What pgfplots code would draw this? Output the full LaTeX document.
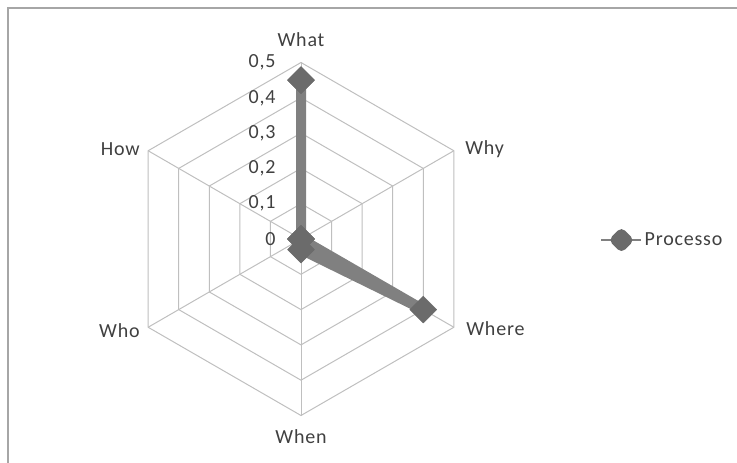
\documentclass[border=0pt]{standalone}
\usepackage{fontspec}
\setmainfont{Carlito}[LetterSpace=4]
\usepackage{pgfplots}
\pgfplotsset{compat=1.18}
\usepgfplotslibrary{polar}
\definecolor{gridgray}{HTML}{BFBFBF}
\definecolor{linegray}{HTML}{808080}
\definecolor{markgray}{HTML}{6B6B6B}
\definecolor{txtgray}{HTML}{404040}
\definecolor{framegray}{HTML}{A6A6A6}
\begin{document}
\begin{tikzpicture}[font=\fontsize{20bp}{23bp}\selectfont, text=txtgray]
\useasboundingbox (0,0) rectangle (737bp,463bp);
\draw[framegray, line width=1.2bp] (8bp,-2bp) -- (8bp,455bp) -- (740bp,455bp);
\begin{polaraxis}[
  at={(301bp,224bp)}, anchor=center,
  scale only axis, width=353bp, height=353bp,
  xmin=0, xmax=360, ymin=0, ymax=0.5,
  hide axis, clip=false,
  legend style={at={(1.347,0.497)}, anchor=west, draw=none, fill=none,
    font=\fontsize{20bp}{23bp}\selectfont, text=txtgray,
    inner xsep=0pt, inner ysep=0pt},
  legend cell align=left,
  legend image code/.code={
    \draw[line width=2.5bp, color=linegray] (0bp,0bp) -- (40bp,0bp);
    \draw[mark=square*, mark size=4.2bp, mark options={rotate=45, fill=markgray, draw=markgray}] plot coordinates {(20bp,0bp)};
  },
]
\pgfplotsinvokeforeach{0.1,0.2,0.3,0.4,0.5}{
  \draw[gridgray, line width=1bp] (axis cs:90,#1) -- (axis cs:30,#1) -- (axis cs:330,#1) -- (axis cs:270,#1) -- (axis cs:210,#1) -- (axis cs:150,#1) -- cycle;
}
\pgfplotsinvokeforeach{90,30,330,270,210,150}{
  \draw[gridgray, line width=1bp] (axis cs:#1,0) -- (axis cs:#1,0.5);
}
\node[anchor=east, xshift=-22bp] at (axis cs:90,0) {0};
\node[anchor=east, xshift=-22bp] at (axis cs:90,0.1) {0,1};
\node[anchor=east, xshift=-22bp] at (axis cs:90,0.2) {0,2};
\node[anchor=east, xshift=-22bp] at (axis cs:90,0.3) {0,3};
\node[anchor=east, xshift=-22bp] at (axis cs:90,0.4) {0,4};
\node[anchor=east, xshift=-22bp] at (axis cs:90,0.5) {0,5};
\node[anchor=base, yshift=16bp] at (axis cs:90,0.5) {What};
\node[anchor=west, xshift=8bp, yshift=2bp] at (axis cs:30,0.5) {Why};
\node[anchor=west, xshift=9bp, yshift=-1bp] at (axis cs:330,0.5) {Where};
\node[anchor=base, yshift=-28bp] at (axis cs:270,0.5) {When};
\node[anchor=east, xshift=-5bp, yshift=-3bp] at (axis cs:210,0.5) {Who};
\node[anchor=east, xshift=-5bp, yshift=2bp] at (axis cs:150,0.5) {How};
\addplot[color=linegray, line width=10bp, line join=round,
  mark=square*, mark size=9.5bp,
  mark options={rotate=45, fill=markgray, draw=markgray, line width=0.5bp}]
  coordinates {(90,0.45) (30,0) (330,0.4) (270,0.03) (210,0) (150,0) (90,0.45)};
\addlegendentry{Processo}
\end{polaraxis}
\end{tikzpicture}
\end{document}
